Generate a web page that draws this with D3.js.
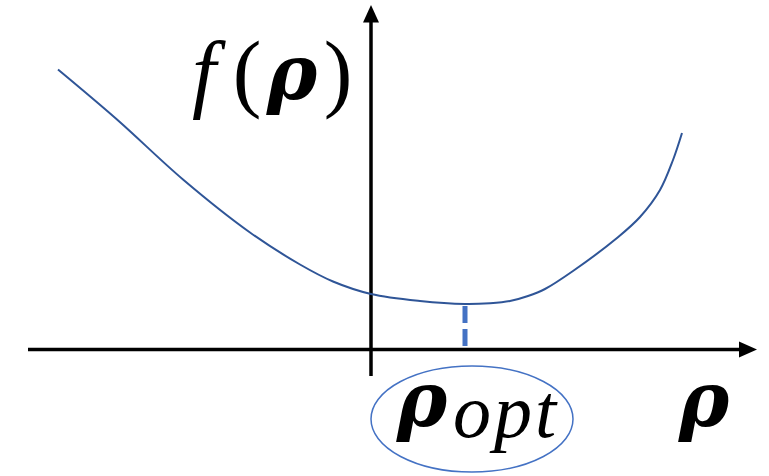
<!DOCTYPE html>
<html>
<head>
<meta charset="utf-8">
<script src="https://cdn.jsdelivr.net/npm/d3@7"></script>
<style>
  body { margin: 0; background: #fff; }
  svg { display: block; }
  text { font-family: "Liberation Serif", "DejaVu Serif", serif; fill: #000; }
  .rho { font-family: "DejaVu Serif", serif; font-style: italic; font-weight: bold; }
</style>
</head>
<body>
<div id="chart"></div>
<script>
// curve samples (rho, f(rho))
var rhoValues = [-3.13, -2.54, -1.88, -1.21, -0.71, -0.38, 0, 0.49, 0.94, 1.19, 1.39, 1.57, 1.74, 2.02, 2.46, 2.69, 2.89, 3.02, 3.11];
var fValues   = [ 2.80,  2.30,  1.70,  1.17,  0.85,  0.68, 0.555, 0.485, 0.455, 0.463, 0.485, 0.535, 0.605, 0.785, 1.115, 1.325, 1.595, 1.895, 2.165];
var rhoOpt = 0.94;
var fOpt = 0.455;
var labelY = "f(ρ)";
var labelX = "ρ";
var labelOpt = ["ρ", "opt"];

const width = 769, height = 476;

var svg = d3.select("#chart")
    .append("svg")
    .attr("width", width)
    .attr("height", height);

// 100 px per unit, origin at axis crossing
const xscale = d3.scaleLinear().domain([-3.43, 3.86]).range([28, 757]);
const yscale = d3.scaleLinear().domain([-0.265, 3.445]).range([376, 5]);

const x0 = xscale(0), y0 = yscale(0);

// axes
svg.append("line")
    .attr("x1", xscale(-3.43)).attr("x2", xscale(3.7))
    .attr("y1", y0).attr("y2", y0)
    .attr("stroke", "#000").attr("stroke-width", 3.5);
svg.append("path")
    .attr("d", `M${xscale(3.86)},${y0} L${xscale(3.68)},${y0 - 8} L${xscale(3.68)},${y0 + 8} Z`)
    .attr("fill", "#000");

svg.append("line")
    .attr("x1", x0).attr("x2", x0)
    .attr("y1", yscale(-0.265)).attr("y2", yscale(3.3))
    .attr("stroke", "#000").attr("stroke-width", 3.5);
svg.append("path")
    .attr("d", `M${x0},${yscale(3.445)} L${x0 - 8},${yscale(3.27)} L${x0 + 8},${yscale(3.27)} Z`)
    .attr("fill", "#000");

// dashed marker at the minimum
svg.append("line")
    .attr("x1", xscale(rhoOpt)).attr("x2", xscale(rhoOpt))
    .attr("y1", yscale(fOpt) + 2).attr("y2", y0 - 1)
    .attr("stroke", "#4472C4").attr("stroke-width", 5)
    .attr("stroke-dasharray", "17,6");

// curve
var pts = rhoValues.map(function(r, i){ return [r, fValues[i]]; });
var line = d3.line()
    .x(function(d){ return xscale(d[0]); })
    .y(function(d){ return yscale(d[1]); })
    .curve(d3.curveCatmullRom.alpha(0.5));
svg.append("path")
    .datum(pts)
    .attr("d", line)
    .attr("fill", "none")
    .attr("stroke", "#2F5597")
    .attr("stroke-width", 2);

// f(rho) label, glyph by glyph
var glyphX = [204, 247, 292, 338];
var yl = svg.append("text").attr("y", 101).attr("font-size", 86).attr("text-anchor", "middle");
Array.from(labelY).forEach(function(ch, i){
    var t = yl.append("tspan").attr("x", glyphX[i]).text(ch);
    if (ch == "f") t.attr("font-style", "italic");
    if (ch == "ρ") t.attr("class", "rho").attr("font-size", 76).attr("dy", -2);
    if (ch == ")") t.attr("dy", 2);
});

// rho axis label
svg.append("text")
    .attr("class", "rho")
    .attr("x", 704).attr("y", 426)
    .attr("font-size", 76).attr("text-anchor", "middle")
    .text(labelX);

// rho_opt in an ellipse
svg.append("ellipse")
    .attr("cx", xscale(1.01)).attr("cy", 419)
    .attr("rx", 101).attr("ry", 53)
    .attr("fill", "none").attr("stroke", "#4472C4").attr("stroke-width", 1.5);
svg.append("text")
    .attr("class", "rho")
    .attr("x", 422).attr("y", 426)
    .attr("font-size", 76).attr("text-anchor", "middle")
    .text(labelOpt[0]);
svg.append("text")
    .attr("x", 453).attr("y", 437)
    .attr("font-style", "italic").attr("font-size", 76)
    .attr("letter-spacing", 3)
    .text(labelOpt[1]);
</script>
</body>
</html>
